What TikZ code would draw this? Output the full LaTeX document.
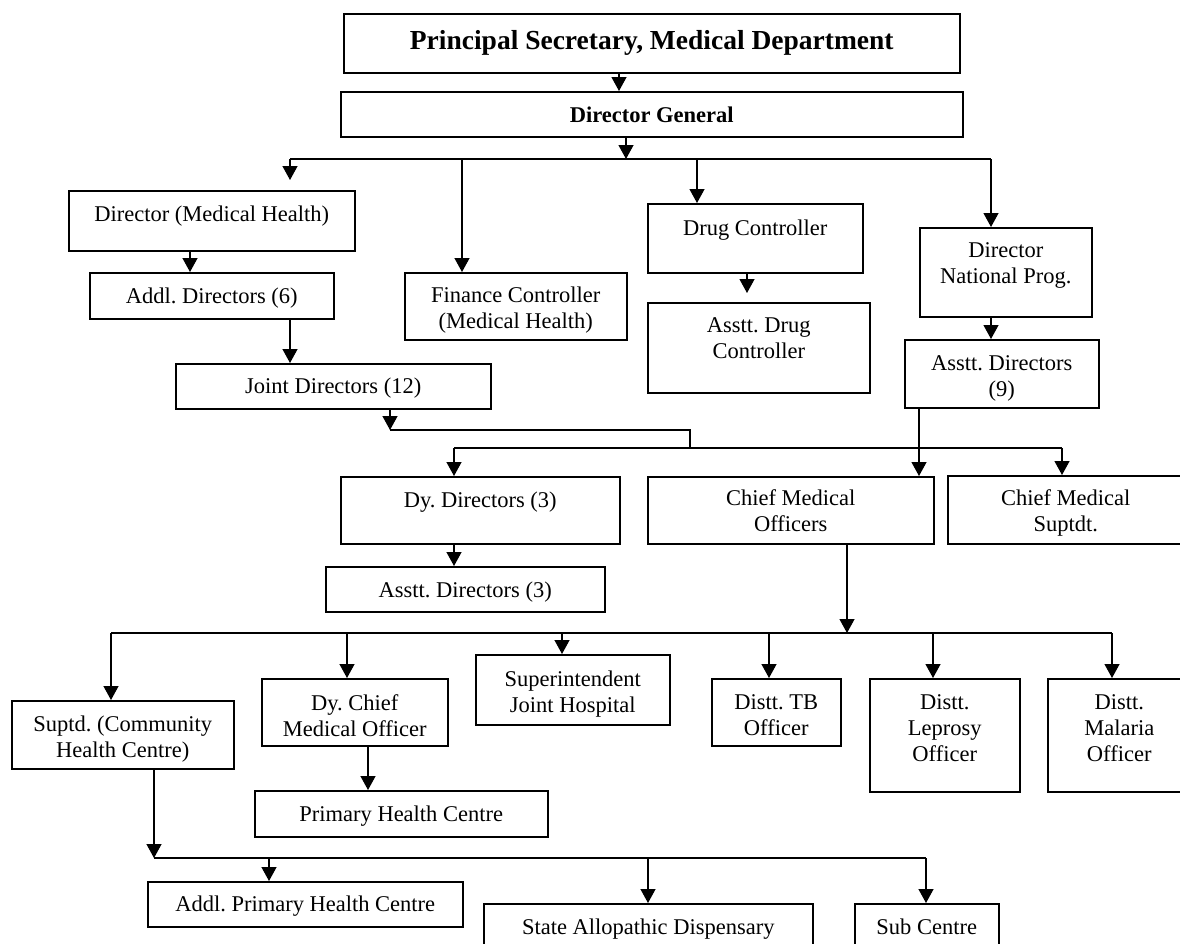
\documentclass[tikz,border=0pt]{standalone}
\usepackage{fontspec}
\setmainfont{Liberation Serif}
\usepackage{tikz}
\usetikzlibrary{arrows.meta}
\frenchspacing
\tikzset{box/.style={draw, line width=1.5pt, inner sep=0pt, anchor=north west, font=\fontsize{22.5}{26}\selectfont},
  arr/.style={-{Triangle[width=15pt,length=14pt]}, line width=1.3pt},
  bus/.style={line width=1.3pt}}
% box text: width, height, top-to-baseline, lines
\newcommand{\orgtext}[4]{\parbox[c][#2pt][t]{#1pt}{\centering\rule{0pt}{#3pt}#4}}

\begin{document}
\begin{tikzpicture}[x=1pt, y=-1pt]
\path[use as bounding box, fill=white] (0,0) rectangle (1180,943);
% top
\node[box] (ps) at (343,13) {\orgtext{616}{59}{36}{\fontsize{27.5}{30}\selectfont\bfseries Principal Secretary, Medical Department}};
\node[box] (dg) at (340,91) {\orgtext{622}{45}{31}{\bfseries Director General}};
% second row
\node[box] (dirmh) at (68,190) {\orgtext{286}{60}{31}{Director (Medical Health)}};
\node[box] (addl) at (89,272) {\orgtext{244}{46}{31}{Addl. Directors (6)}};
\node[box] (fin) at (404,272) {\orgtext{222}{67}{30}{Finance Controller\\(Medical Health)}};
\node[box] (drug) at (647,203) {\orgtext{215}{69}{32}{Drug Controller}};
\node[box] (adrug) at (647,302) {\orgtext{222}{90}{30}{Asstt. Drug\\Controller}};
\node[box] (dnp) at (919,227) {\orgtext{172}{89}{30}{Director\\National Prog.}};
\node[box] (ad9) at (904,339) {\orgtext{194}{68}{31}{Asstt. Directors\\(9)}};
\node[box] (joint) at (175,363) {\orgtext{315}{45}{30}{Joint Directors (12)}};
% third row
\node[box] (dy) at (340,476) {\orgtext{279}{67}{31}{Dy. Directors (3)}};
\node[box] (ad3) at (325,566) {\orgtext{279}{45}{31}{Asstt. Directors (3)}};
\node[box] (cmo) at (647,476) {\orgtext{286}{67}{29}{Chief Medical\\Officers}};
\node[box] (cms) at (947,475) {\orgtext{236}{68}{30}{Chief Medical\\Suptdt.}};
% district level
\node[box] (suptd) at (11,700) {\orgtext{222}{68}{31}{Suptd. (Community\\Health Centre)}};
\node[box] (dycmo) at (261,678) {\orgtext{186}{67}{32}{Dy. Chief\\Medical Officer}};
\node[box] (sup) at (475,654) {\orgtext{194}{70}{32}{Superintendent\\Joint Hospital}};
\node[box] (tb) at (711,678) {\orgtext{129}{67}{31}{Distt. TB\\Officer}};
\node[box] (lep) at (869,678) {\orgtext{150}{113}{31}{Distt.\\Leprosy\\Officer}};
\node[box] (mal) at (1047,678) {\orgtext{143}{113}{31}{Distt.\\Malaria\\Officer}};
\node[box] (phc) at (254,790) {\orgtext{293}{46}{31}{Primary Health Centre}};
% bottom
\node[box] (aphc) at (147,881) {\orgtext{315}{45}{30}{Addl. Primary Health Centre}};
\node[box] (sad) at (483,903) {\orgtext{329}{50}{31}{State Allopathic Dispensary}};
\node[box] (sub) at (854,903) {\orgtext{144}{50}{31}{Sub Centre}};
% junctions
\coordinate (dgb) at (626,159);
\coordinate (b1) at (290,159);
\coordinate (b2) at (462,159);
\coordinate (b3) at (697,159);
\coordinate (b4) at (991,159);
\coordinate (jb) at (390,430);
\coordinate (jc) at (690,448);
\coordinate (d1) at (454,448);
\coordinate (d3) at (1062,448);
\coordinate (cb) at (847,633);
\coordinate (s1) at (111,633);
\coordinate (s2) at (347,633);
\coordinate (s3) at (562,633);
\coordinate (s4) at (769,633);
\coordinate (s5) at (933,633);
\coordinate (s6) at (1112,633);
\coordinate (hb) at (154,858);
\coordinate (h2) at (269,858);
\coordinate (h3) at (648,858);
\coordinate (h4) at (926,858);
% connectors
\draw[arr] (ps.south -| 619,0) -- (dg.north -| 619,0);
\draw[arr] (dg.south -| dgb) -- (dgb);
\draw[bus] (b1) -- (b4);
\path (b1) edge[arr, shorten >=10pt] (b1 |- dirmh.north) (b2) edge[arr] (b2 |- fin.north) (b3) edge[arr] (b3 |- drug.north) (b4) edge[arr] (b4 |- dnp.north);
\draw[arr] (dirmh.south -| 190,0) -- (addl.north -| 190,0);
\draw[arr] (addl.south -| 290,0) -- (joint.north -| 290,0);
\draw[arr, shorten >=9pt] (drug.south -| 747,0) -- (adrug.north -| 747,0);
\draw[arr] (dnp.south -| b4) -- (ad9.north -| b4);
\draw[arr] (joint.south -| jb) -- (jb);
\draw[bus] (jb) -| (jc);
\draw[bus] (d1) -- (d3);
\path (d1) edge[arr] (d1 |- dy.north) (d3) edge[arr] (d3 |- cms.north);
\draw[arr] (ad9.south -| 919,0) -- (cmo.north -| 919,0);
\draw[arr] (dy.south -| d1) -- (ad3.north -| d1);
\draw[arr] (cmo.south -| cb) -- (cb);
\draw[bus] (s1) -- (s6);
\path (s1) edge[arr] (s1 |- suptd.north) (s2) edge[arr] (s2 |- dycmo.north) (s3) edge[arr] (s3 |- sup.north)
  (s4) edge[arr] (s4 |- tb.north) (s5) edge[arr] (s5 |- lep.north) (s6) edge[arr] (s6 |- mal.north);
\draw[arr] (dycmo.south -| 368,0) -- (phc.north -| 368,0);
\draw[arr] (suptd.south -| hb) -- (hb);
\draw[bus] (hb) -- (h4);
\path (h2) edge[arr] (h2 |- aphc.north) (h3) edge[arr] (h3 |- sad.north) (h4) edge[arr] (h4 |- sub.north);
\end{tikzpicture}
\end{document}
